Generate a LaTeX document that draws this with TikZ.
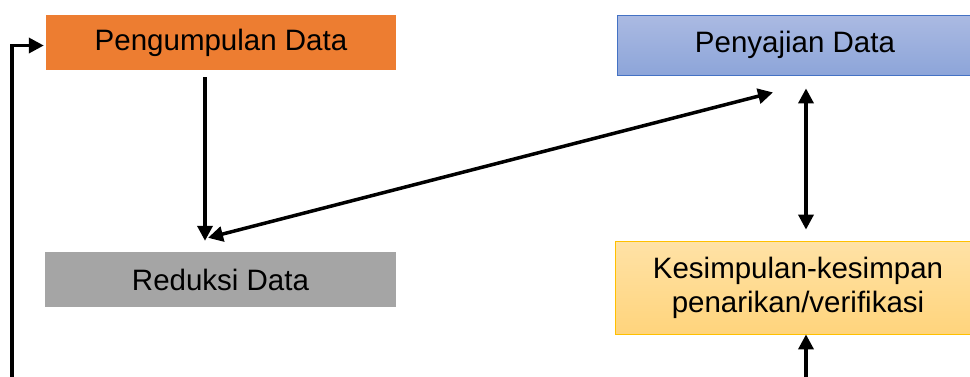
\documentclass[tikz,border=0pt]{standalone}
\usepackage{fontspec}
\setmainfont{Liberation Sans}
\usetikzlibrary{arrows.meta,calc}
\definecolor{orangeF}{HTML}{ED7D31}
\definecolor{grayF}{HTML}{A5A5A5}
\definecolor{blueT}{HTML}{ABBAE2}
\definecolor{blueB}{HTML}{8DA5D9}
\definecolor{blueD}{HTML}{4472C4}
\definecolor{yelT}{HTML}{FFE2A6}
\definecolor{yelB}{HTML}{FFD47C}
\definecolor{yelD}{HTML}{FFC000}
\tikzset{
  box/.style={rectangle, inner sep=0pt, align=center, font=\fontsize{29.5}{34}\selectfont, text=black},
  arr/.style={line width=3.5pt, -{Triangle[length=15pt,width=15pt]}},
  darr/.style={line width=3.5pt, {Triangle[length=15pt,width=15pt]}-{Triangle[length=15pt,width=15pt]}}
}
\begin{document}
\begin{tikzpicture}[x=1pt,y=-1pt]
\useasboundingbox (0,0) rectangle (970,376);
\clip (0,0) rectangle (970,376);
\node[box, fill=orangeF, minimum width=350pt, minimum height=55pt] (peng) at (221,42.5) {\raisebox{-2.5pt}{Pengumpulan Data}};
\node[box, draw=blueD, line width=0.8pt, top color=blueT, bottom color=blueB, minimum width=356pt, minimum height=60pt] (peny) at (795,45) {\raisebox{-2pt}{Penyajian Data}};
\node[box, fill=grayF, minimum width=351pt, minimum height=55pt] (red) at (220.5,279.5) {\raisebox{-3pt}{Reduksi Data}};
\node[box, draw=yelD, line width=0.8pt, top color=yelT, bottom color=yelB, minimum width=366pt, minimum height=93pt] (kes) at (798,287.5) {Kesimpulan-kesimpan\\penarikan/verifikasi};
\coordinate (fb) at (12,380);
\coordinate (bt) at (806,380);
\draw[arr] ([xshift=-16pt,yshift=-7pt]peng.south) -- ([xshift=-15.5pt,yshift=11pt]red.north);
\draw[darr] ([xshift=-12.5pt,yshift=14pt]red.north) -- ([xshift=-22pt,yshift=-17pt]peny.south);
\draw[darr] ([xshift=11pt,yshift=-13pt]peny.south) -- ([xshift=8pt,yshift=11pt]kes.north);
\draw[arr] (bt) -- ([xshift=8pt]kes.south);
\draw[arr] (fb) |- ([xshift=-2pt,yshift=-3pt]peng.west);
\end{tikzpicture}
\end{document}
